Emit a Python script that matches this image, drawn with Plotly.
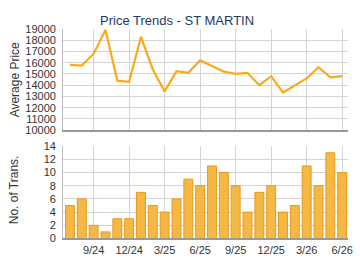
import plotly.graph_objects as go

months = ["7/24","8/24","9/24","10/24","11/24","12/24","1/25","2/25","3/25","4/25","5/25","6/25",
          "7/25","8/25","9/25","10/25","11/25","12/25","1/26","2/26","3/26","4/26","5/26","6/26"]
avg_price = [15800, 15750, 16800, 18900, 14400, 14300, 18300, 15400, 13450, 15250, 15100, 16200,
             15700, 15200, 15000, 15100, 14000, 14800, 13350, 13950, 14600, 15600, 14700, 14800]
transactions = [5, 6, 2, 1, 3, 3, 7, 5, 4, 6, 9, 8, 11, 10, 8, 4, 7, 8, 4, 5, 11, 8, 13, 10]
tick_months = ["9/24","12/24","3/25","6/25","9/25","12/25","3/26","6/26"]

idx = list(range(len(months)))
tickvals = [months.index(m) for m in tick_months]

W, H = 360, 270
def px(x): return x / W
def py(y): return 1 - y / H

fig = go.Figure()
fig.add_trace(go.Scatter(x=idx, y=avg_price, mode="lines",
                         line=dict(color="#FBA919", width=2.2),
                         xaxis="x", yaxis="y", showlegend=False))
fig.add_trace(go.Bar(x=idx, y=transactions,
                     marker=dict(color="#F6B845", line=dict(color="#E59A1C", width=1)),
                     xaxis="x2", yaxis="y2", showlegend=False))

FONT = "Liberation Sans, Arial, sans-serif"
font_tick = dict(family=FONT, size=11, color="#333333")
xr = [-0.58, 23.5]
common_x = dict(range=xr, tickmode="array", tickvals=tickvals, showgrid=True,
                gridcolor="#D4D4D4", gridwidth=1, showline=True, linecolor="#999999",
                linewidth=2, zeroline=False, ticks="", tickfont=font_tick)
fig.update_layout(
    width=W, height=H,
    margin=dict(l=0, r=0, t=0, b=0),
    paper_bgcolor="white", plot_bgcolor="white",
    bargap=0.25,
    xaxis=dict(domain=[px(64), px(353)], anchor="y", showticklabels=False, **common_x),
    yaxis=dict(domain=[py(130), py(24)], range=[10000, 19000], dtick=1000, tick0=10000,
               tickformat="d",
               showgrid=True, gridcolor="#D4D4D4", showline=True, linecolor="#BBBBBB",
               linewidth=1, zeroline=False, tickfont=font_tick, ticklabelstandoff=4),
    xaxis2=dict(domain=[px(64), px(353)], anchor="y2",
                ticktext=tick_months, showticklabels=True, **common_x),
    yaxis2=dict(domain=[py(243.3), py(146.7)], range=[0, 14], dtick=2, tick0=0,
                showgrid=True, gridcolor="#D4D4D4", showline=True, linecolor="#BBBBBB",
                linewidth=1, zeroline=False, tickfont=font_tick, ticklabelstandoff=4),
    annotations=[
        dict(text="Price Trends - ST MARTIN", x=px(179), y=py(15), xref="paper", yref="paper",
             xanchor="center", yanchor="middle",
             showarrow=False, font=dict(family=FONT, size=13, color="#1E3A66")),
        dict(text="Average Price", x=px(15), y=py(77), xref="paper", yref="paper", textangle=-90,
             xanchor="center", yanchor="middle",
             showarrow=False, font=dict(family=FONT, size=12, color="#333333")),
        dict(text="No. of Trans.", x=px(15), y=py(192), xref="paper", yref="paper", textangle=-90,
             xanchor="center", yanchor="middle",
             showarrow=False, font=dict(family=FONT, size=12, color="#333333")),
    ],
)
fig.write_html("out.html")
